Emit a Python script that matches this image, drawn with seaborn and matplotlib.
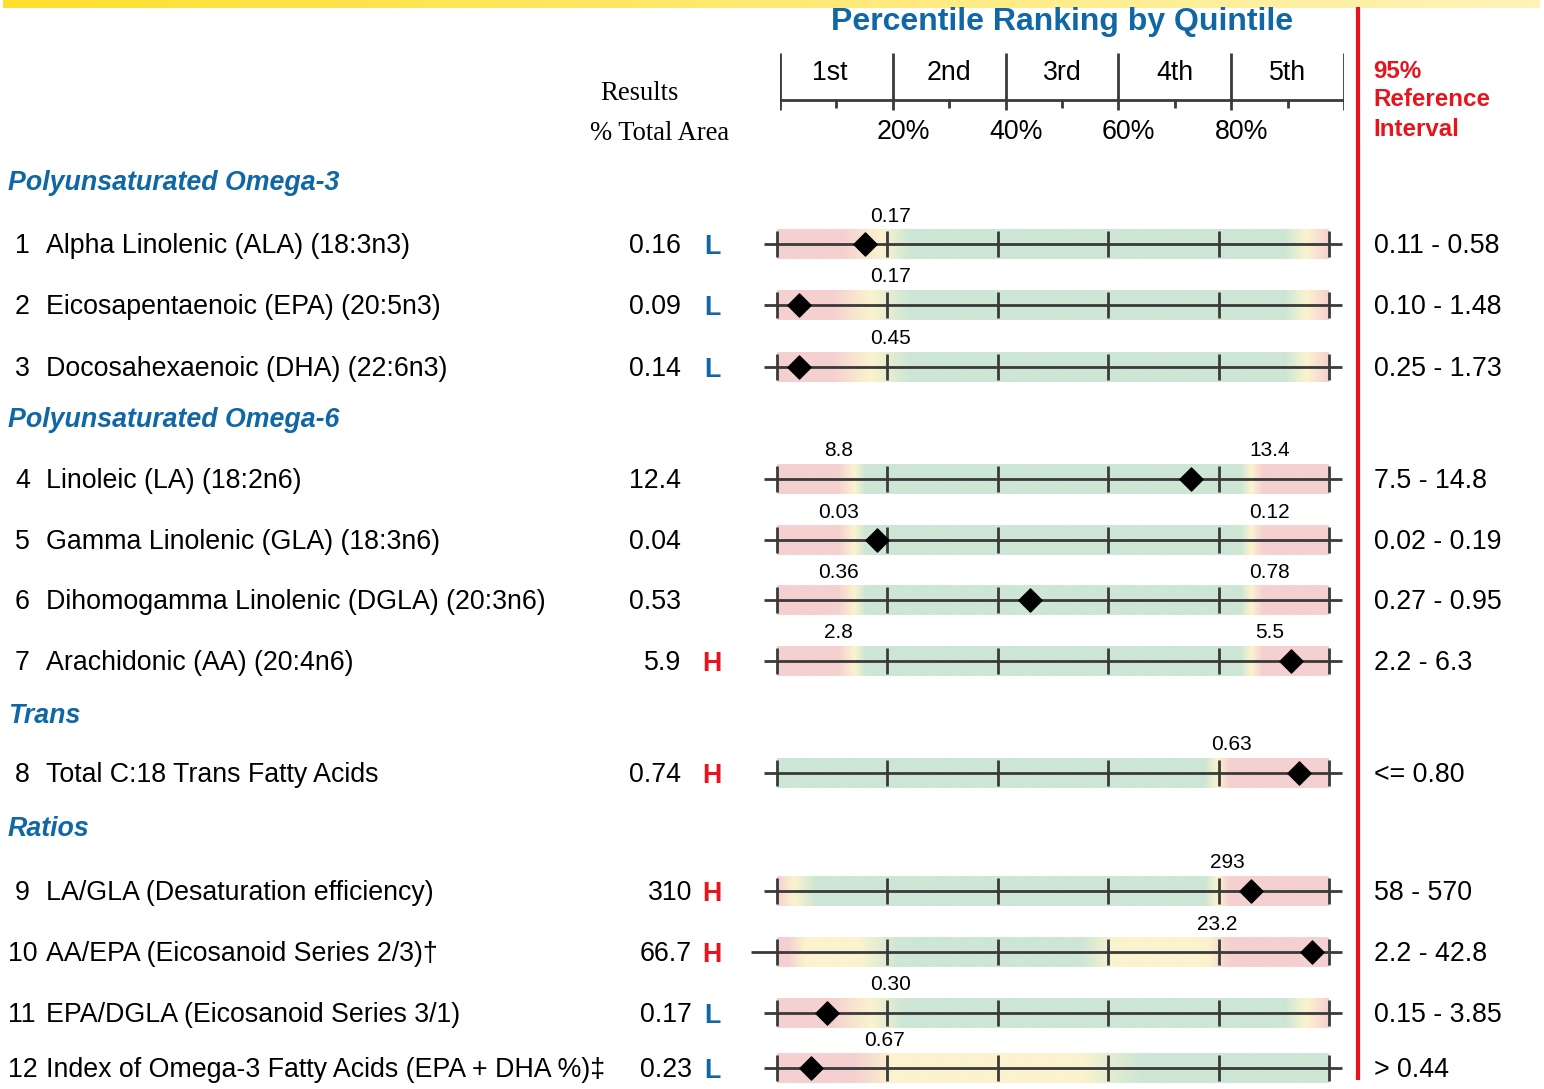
import numpy as np
import pandas as pd
import matplotlib
matplotlib.use('Agg')
import matplotlib.pyplot as plt
import matplotlib.colors as mcolors
import seaborn as sns

sns.set_theme(style='white')
plt.rcParams['font.family'] = ['Liberation Sans', 'DejaVu Sans']
plt.rcParams['text.color'] = 'black'

# ---- data ----
row_nums = ['1', '2', '3', '4', '5', '6', '7', '8', '9', '10', '11', '12']
row_names = ['Alpha Linolenic (ALA) (18:3n3)',
             'Eicosapentaenoic (EPA) (20:5n3)',
             'Docosahexaenoic (DHA) (22:6n3)',
             'Linoleic (LA) (18:2n6)',
             'Gamma Linolenic (GLA) (18:3n6)',
             'Dihomogamma Linolenic (DGLA) (20:3n6)',
             'Arachidonic (AA) (20:4n6)',
             'Total C:18 Trans Fatty Acids',
             'LA/GLA (Desaturation efficiency)',
             'AA/EPA (Eicosanoid Series 2/3)\u2020',
             'EPA/DGLA (Eicosanoid Series 3/1)',
             'Index of Omega-3 Fatty Acids (EPA + DHA %)\u2021']
results = ['0.16', '0.09', '0.14', '12.4', '0.04', '0.53', '5.9', '0.74',
           '310', '66.7', '0.17', '0.23']
flags = ['L', 'L', 'L', '', '', '', 'H', 'H', 'H', 'H', 'L', 'L']
ref_interval = ['0.11 - 0.58', '0.10 - 1.48', '0.25 - 1.73', '7.5 - 14.8',
                '0.02 - 0.19', '0.27 - 0.95', '2.2 - 6.3', '<= 0.80',
                '58 - 570', '2.2 - 42.8', '0.15 - 3.85', '> 0.44']
# percentile position of the patient result
percentile = [15.9, 4.0, 4.0, 75.0, 18.1, 45.8, 93.1, 94.6, 85.9, 96.9, 9.0, 6.1]
# cut-off values written above each bar (percentile, label)
cutoffs = [[(20.6, '0.17')], [(20.6, '0.17')], [(20.6, '0.45')],
           [(11.2, '8.8'), (89.3, '13.4')], [(11.2, '0.03'), (89.3, '0.12')],
           [(11.2, '0.36'), (89.3, '0.78')], [(11.2, '2.8'), (89.3, '5.5')],
           [(82.3, '0.63')], [(81.6, '293')], [(79.7, '23.2')],
           [(20.6, '0.30')], [(19.5, '0.67')]]
# colour zones along each bar (percentile, zone)
zones = [
    [(0, 'P'), (12, 'P'), (19, 'Y'), (24, 'G'), (92, 'G'), (96, 'Y'), (100, 'P')],
    [(0, 'P'), (10, 'P'), (17, 'Y'), (24, 'G'), (92, 'G'), (96, 'Y'), (100, 'P')],
    [(0, 'P'), (10, 'P'), (17, 'Y'), (24, 'G'), (92, 'G'), (96, 'Y'), (100, 'P')],
    [(0, 'P'), (11, 'P'), (14, 'Y'), (16, 'G'), (84, 'G'), (86, 'Y'), (88, 'P'), (100, 'P')],
    [(0, 'P'), (11, 'P'), (14, 'Y'), (16, 'G'), (84, 'G'), (86, 'Y'), (88, 'P'), (100, 'P')],
    [(0, 'P'), (11, 'P'), (14, 'Y'), (16, 'G'), (84, 'G'), (86, 'Y'), (88, 'P'), (100, 'P')],
    [(0, 'P'), (11, 'P'), (14, 'Y'), (16, 'G'), (84, 'G'), (86, 'Y'), (88, 'P'), (100, 'P')],
    [(0, 'G'), (77.5, 'G'), (80, 'Y'), (82, 'P'), (100, 'P')],
    [(0, 'P'), (3, 'Y'), (7, 'G'), (77.5, 'G'), (80, 'Y'), (82, 'P'), (100, 'P')],
    [(0, 'P'), (2, 'P'), (5, 'Y'), (15, 'Y'), (22, 'G'), (55, 'G'), (61, 'Y'), (78, 'Y'), (82, 'P'), (100, 'P')],
    [(0, 'P'), (10, 'P'), (17, 'Y'), (23, 'G'), (92, 'G'), (96, 'Y'), (100, 'P')],
    [(0, 'P'), (14, 'P'), (21, 'Y'), (55, 'Y'), (66, 'G'), (100, 'G')],
]
sections = ['Polyunsaturated Omega-3', 'Polyunsaturated Omega-6', 'Trans', 'Ratios']
quintiles = ['1st', '2nd', '3rd', '4th', '5th']
pct_labels = ['20%', '40%', '60%', '80%']

# ---- layout (pixels) ----
W, H = 1544, 1089
row_y = [244, 305, 367, 479, 540, 600, 661, 773, 891, 952, 1013, 1068]
section_y = [183, 420, 716, 829]
zone_col = {'P': '#F5D0D0', 'Y': '#FBF3CE', 'G': '#CDE6D5'}
blue = '#0F67A6'
red = '#E8141C'
line_col = '#3a3a3a'
fs = 19.3

fig = plt.figure(figsize=(W / 100, H / 100), dpi=100)
ax = fig.add_axes([0, 0, 1, 1])
ax.set_xlim(0, W)
ax.set_ylim(H, 0)
ax.axis('off')

# yellow banner strip at top
strip = np.linspace(0, 1, 300)
strip_cmap = mcolors.LinearSegmentedColormap.from_list('strip', ['#FFDF2E', '#FFF3B8'])
ax.imshow(strip[None, :], cmap=strip_cmap, extent=(3, 1540, 8, 0), aspect='auto')

# red divider
ax.vlines(1358, 7, 1080, color=red, lw=3)

# headers
ax.text(1062, 22, 'Percentile Ranking by Quintile', color=blue, fontsize=23,
        fontweight='bold', ha='center', va='center')
ax.text(639, 93, 'Results', family='Liberation Serif', fontsize=19.2,
        ha='center', va='center')
ax.text(660, 133, '% Total Area', family='Liberation Serif', fontsize=19.2,
        ha='center', va='center')
for yy, t in zip([72, 100, 129], ['95%', 'Reference', 'Interval']):
    ax.text(1373, yy, t, color=red, fontsize=17.4, fontweight='bold',
            ha='left', va='center')

for t, yy in zip(sections, section_y):
    ax.text(8, yy, t, color=blue, fontsize=fs, fontweight='bold',
            fontstyle='italic', ha='left', va='center')

# row texts
for i in range(len(row_names)):
    yy = row_y[i] + 2
    nx = 8 if len(row_nums[i]) > 1 else 15
    ax.text(nx, yy, row_nums[i], fontsize=fs, ha='left', va='center')
    ax.text(46, yy, row_names[i], fontsize=fs, ha='left', va='center')
    rx = 681 if i < 8 else 692
    ax.text(rx, yy, results[i], fontsize=fs, ha='right', va='center')
    if flags[i]:
        ax.text(712, yy + 1, flags[i], fontsize=fs, fontweight='bold',
                color=blue if flags[i] == 'L' else red, ha='center', va='center')
    ax.text(1374, yy, ref_interval[i], fontsize=fs, ha='left', va='center')

# ---- quintile scale at the top ----
ax_s = fig.add_axes([780 / W, 0, 564 / W, 1])
ax_s.set_xlim(0, 100)
ax_s.set_ylim(H, 0)
ax_s.axis('off')
ax_s.patch.set_alpha(0)
ax_s.hlines(100, 0, 100, color=line_col, lw=2)
ax_s.vlines(np.arange(0, 101, 20), 53, 110, color=line_col, lw=2)
ax_s.vlines(np.arange(10, 100, 20), 100, 108, color=line_col, lw=2)
for k, q in enumerate(quintiles):
    qx = 10 + 20 * k - (1.2 if k == 0 else 0)
    ax_s.text(qx, 73, q, fontsize=fs, ha='center', va='center')
for k, p in enumerate(pct_labels):
    ax_s.text(20 * (k + 1) + 1.8, 132, p, fontsize=fs, ha='center', va='center')

# ---- percentile bars ----
ax_b = fig.add_axes([777 / W, 0, 552 / W, 1])
ax_b.patch.set_alpha(0)
xs = np.linspace(0, 100, 600)
for i in range(len(row_y)):
    yy = row_y[i]
    stops = zones[i]
    sx = [s[0] for s in stops]
    rgb = np.array([mcolors.to_rgb(zone_col[s[1]]) for s in stops])
    grad = np.stack([np.interp(xs, sx, rgb[:, c]) for c in range(3)], axis=-1)
    ax_b.imshow(grad[None, :, :], extent=(0, 100, yy + 15, yy - 15),
                aspect='auto', zorder=1)
    left = -4.7 if i == 9 else -2.4
    ax_b.hlines(yy, left, 102.4, color=line_col, lw=2, zorder=2, clip_on=False)
    ax_b.vlines(np.arange(0, 101, 20), yy - 13, yy + 13, color=line_col,
                lw=2, zorder=2, clip_on=False)
    for px, lab in cutoffs[i]:
        ax_b.text(px, yy - 28, lab, fontsize=15, ha='center', va='center')

df = pd.DataFrame({'pct': percentile, 'y': row_y})
sns.scatterplot(data=df, x='pct', y='y', marker='D', s=140, color='black',
                edgecolor='black', ax=ax_b, zorder=5, legend=False,
                clip_on=False)
ax_b.set_xlim(0, 100)
ax_b.set_ylim(H, 0)
ax_b.axis('off')

fig.savefig('out.png', dpi=100)
